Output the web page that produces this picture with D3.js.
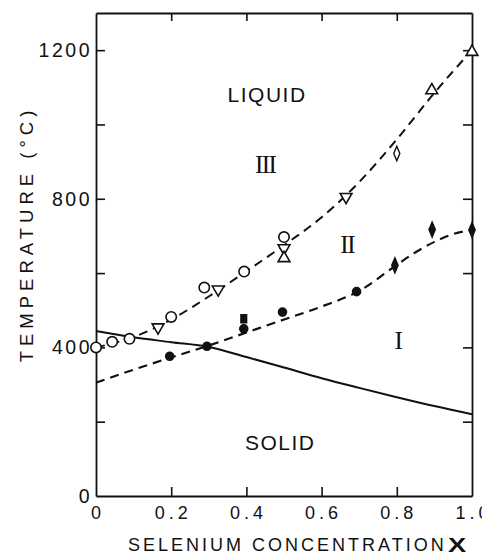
<!DOCTYPE html>
<html>
<head>
<meta charset="utf-8">
<script src="https://cdn.jsdelivr.net/npm/d3@7"></script>
<style>
  body { margin: 0; background: #fff; }
</style>
</head>
<body>
<div id="chart"></div>
<script>
// Data (x = selenium fraction, y = temperature in C)
var upperCurveX = [0, 0.1, 0.2, 0.3, 0.4, 0.5, 0.6, 0.7, 0.8, 0.9, 1.0];
var upperCurveY = [400, 428, 475, 537, 605, 675, 750, 845, 960, 1085, 1200];
var lowerCurveX = [0, 0.1, 0.2, 0.3, 0.4, 0.5, 0.6, 0.7, 0.8, 0.85, 0.9, 0.95, 1.0];
var lowerCurveY = [305, 340, 373, 405, 440, 475, 510, 552, 622, 656, 684, 705, 716];
var solidCurveX = [0, 0.1, 0.2, 0.3, 0.4, 0.5, 0.6, 0.7, 0.8, 0.9, 1.0];
var solidCurveY = [444, 427, 414, 401, 374, 346, 317, 291, 266, 242, 220];

var openCircleX = [0, 0.043, 0.089, 0.2, 0.288, 0.394, 0.5];
var openCircleY = [400, 415, 423, 482, 561, 604, 697];
var triDownX = [0.165, 0.325, 0.5, 0.665];
var triDownY = [454, 556, 667, 805];
var triUpX = [0.5, 0.893, 1.0];
var triUpY = [640, 1092, 1195];
var openDiamondX = [0.8];
var openDiamondY = [922];
var filledCircleX = [0.196, 0.295, 0.393, 0.496, 0.693];
var filledCircleY = [376, 403, 450, 495, 550];
var filledSquareX = [0.393];
var filledSquareY = [477];
var filledDiamondX = [0.795, 0.894, 1.0];
var filledDiamondY = [621, 717, 716];

var xTicks = [0, 0.2, 0.4, 0.6, 0.8, 1.0];
var xTickLabels = ["0", "0.2", "0.4", "0.6", "0.8", "1.0"];
var yTicks = [0, 200, 400, 600, 800, 1000, 1200];
var yLabelTicks = [0, 400, 800, 1200];
var yTickLabels = ["0", "400", "800", "1200"];

var regionLabels = [
  {text: "LIQUID", x: 0.455, y: 1060, serif: false},
  {text: "SOLID", x: 0.49, y: 125, serif: false},
  {text: "III", x: 0.45, y: 870, serif: true},
  {text: "II", x: 0.668, y: 655, serif: true},
  {text: "I", x: 0.803, y: 395, serif: true}
];

var W = 482, H = 555;
var margin = {top: 13, right: 10, bottom: 59, left: 96};
var font = "'Liberation Sans', Arial, sans-serif";
var ink = "#111";

var svg = d3.select("#chart").append("svg")
  .attr("width", W)
  .attr("height", H);

var x = d3.scaleLinear().domain([0, 1]).range([margin.left, W - margin.right]);
var y = d3.scaleLinear().domain([0, 1300]).range([H - margin.bottom, margin.top]);

function zip(xs, ys) {
  return xs.map(function(d, i) { return [d, ys[i]]; });
}

// Frame + inward ticks, no built-in labels
var axisB = svg.append("g")
  .attr("transform", "translate(0," + y(0) + ")")
  .call(d3.axisBottom(x).tickValues(xTicks.slice(1, 5)).tickSize(-9).tickSizeOuter(0).tickFormat(""));
var axisT = svg.append("g")
  .attr("transform", "translate(0," + y(1300) + ")")
  .call(d3.axisTop(x).tickValues(xTicks.slice(1, 5)).tickSize(-8).tickSizeOuter(0).tickFormat(""));
var axisL = svg.append("g")
  .attr("transform", "translate(" + x(0) + ",0)")
  .call(d3.axisLeft(y).tickValues(yTicks.slice(1)).tickSize(-9).tickSizeOuter(0).tickFormat(""));
var axisR = svg.append("g")
  .attr("transform", "translate(" + x(1) + ",0)")
  .call(d3.axisRight(y).tickValues(yTicks.slice(1)).tickSize(-9).tickSizeOuter(0).tickFormat(""));

[axisB, axisT, axisL, axisR].forEach(function(g) {
  g.select(".domain").attr("stroke", ink).attr("stroke-width", 1.8);
  g.selectAll(".tick line").attr("stroke", ink).attr("stroke-width", 1.6);
});

// Tick labels
svg.append("g").selectAll("text")
  .data(xTicks)
  .enter().append("text")
    .attr("x", function(d) { return x(d) + 2; })
    .attr("y", 519)
    .attr("text-anchor", "middle")
    .attr("font-family", font)
    .attr("font-size", 18)
    .attr("letter-spacing", 4)
    .attr("fill", ink)
    .text(function(d, i) { return xTickLabels[i]; });

svg.append("g").selectAll("text")
  .data(yLabelTicks)
  .enter().append("text")
    .attr("x", x(0) - 4)
    .attr("y", function(d) { return y(d); })
    .attr("dy", "0.36em")
    .attr("text-anchor", "end")
    .attr("font-family", font)
    .attr("font-size", 19.5)
    .attr("letter-spacing", 2.5)
    .attr("fill", ink)
    .text(function(d, i) { return yTickLabels[i]; });

// Axis titles
svg.append("text")
  .attr("x", 128)
  .attr("y", 551)
  .attr("font-family", font)
  .attr("font-size", 18)
  .attr("letter-spacing", 3)
  .attr("fill", ink)
  .text("SELENIUM  CONCENTRATION");
svg.append("text")
  .attr("transform", "translate(448,552) scale(1.3,1)")
  .attr("font-family", font)
  .attr("font-size", 21)
  .attr("font-weight", "bold")
  .attr("fill", ink)
  .text("X");

svg.append("text")
  .attr("transform", "translate(33,234) rotate(-90)")
  .attr("text-anchor", "middle")
  .attr("font-family", font)
  .attr("font-size", 18.5)
  .attr("letter-spacing", 5)
  .attr("fill", ink)
  .text("TEMPERATURE (°C)");

// Curves
var line = d3.line()
  .x(function(d) { return x(d[0]); })
  .y(function(d) { return y(d[1]); })
  .curve(d3.curveMonotoneX);

svg.append("path")
  .attr("d", line(zip(solidCurveX, solidCurveY)))
  .attr("fill", "none").attr("stroke", ink).attr("stroke-width", 2);
svg.append("path")
  .attr("d", line(zip(upperCurveX, upperCurveY)))
  .attr("fill", "none").attr("stroke", ink).attr("stroke-width", 2)
  .attr("stroke-dasharray", "9,6");
svg.append("path")
  .attr("d", line(zip(lowerCurveX, lowerCurveY)))
  .attr("fill", "none").attr("stroke", ink).attr("stroke-width", 2.2)
  .attr("stroke-dasharray", "9,6");

// Markers
function drawMarkers(xs, ys, type, size, filled, rot) {
  svg.append("g").selectAll("path")
    .data(zip(xs, ys))
    .enter().append("path")
      .attr("d", d3.symbol().type(type).size(size))
      .attr("transform", function(d) {
        return "translate(" + x(d[0]) + "," + y(d[1]) + ")" + (rot ? " " + rot : "");
      })
      .attr("fill", filled ? ink : "#fff")
      .attr("stroke", ink)
      .attr("stroke-width", 1.6);
}

drawMarkers(openCircleX, openCircleY, d3.symbolCircle, 85, false);
drawMarkers(triDownX, triDownY, d3.symbolTriangle, 60, false, "rotate(180)");
drawMarkers(triUpX, triUpY, d3.symbolTriangle, 60, false);
drawMarkers(openDiamondX, openDiamondY, d3.symbolDiamond, 50, false, "scale(0.8,1.1)");
drawMarkers(filledCircleX, filledCircleY, d3.symbolCircle, 50, true);
drawMarkers(filledSquareX, filledSquareY, d3.symbolSquare, 40, true, "scale(0.9,1.2)");
drawMarkers(filledDiamondX, filledDiamondY, d3.symbolDiamond, 55, true, "scale(0.8,1.1)");

// Region labels
svg.append("g").selectAll("text")
  .data(regionLabels)
  .enter().append("text")
    .attr("x", function(d) { return x(d.x); })
    .attr("y", function(d) { return y(d.y); })
    .attr("text-anchor", "middle")
    .attr("font-family", function(d) { return d.serif ? "'Liberation Serif', 'Times New Roman', serif" : font; })
    .attr("font-size", function(d) { return d.serif ? 25 : 21; })
    .attr("letter-spacing", function(d) { return d.serif ? -1.5 : 1.5; })
    .attr("fill", ink)
    .text(function(d) { return d.text; });
</script>
</body>
</html>
